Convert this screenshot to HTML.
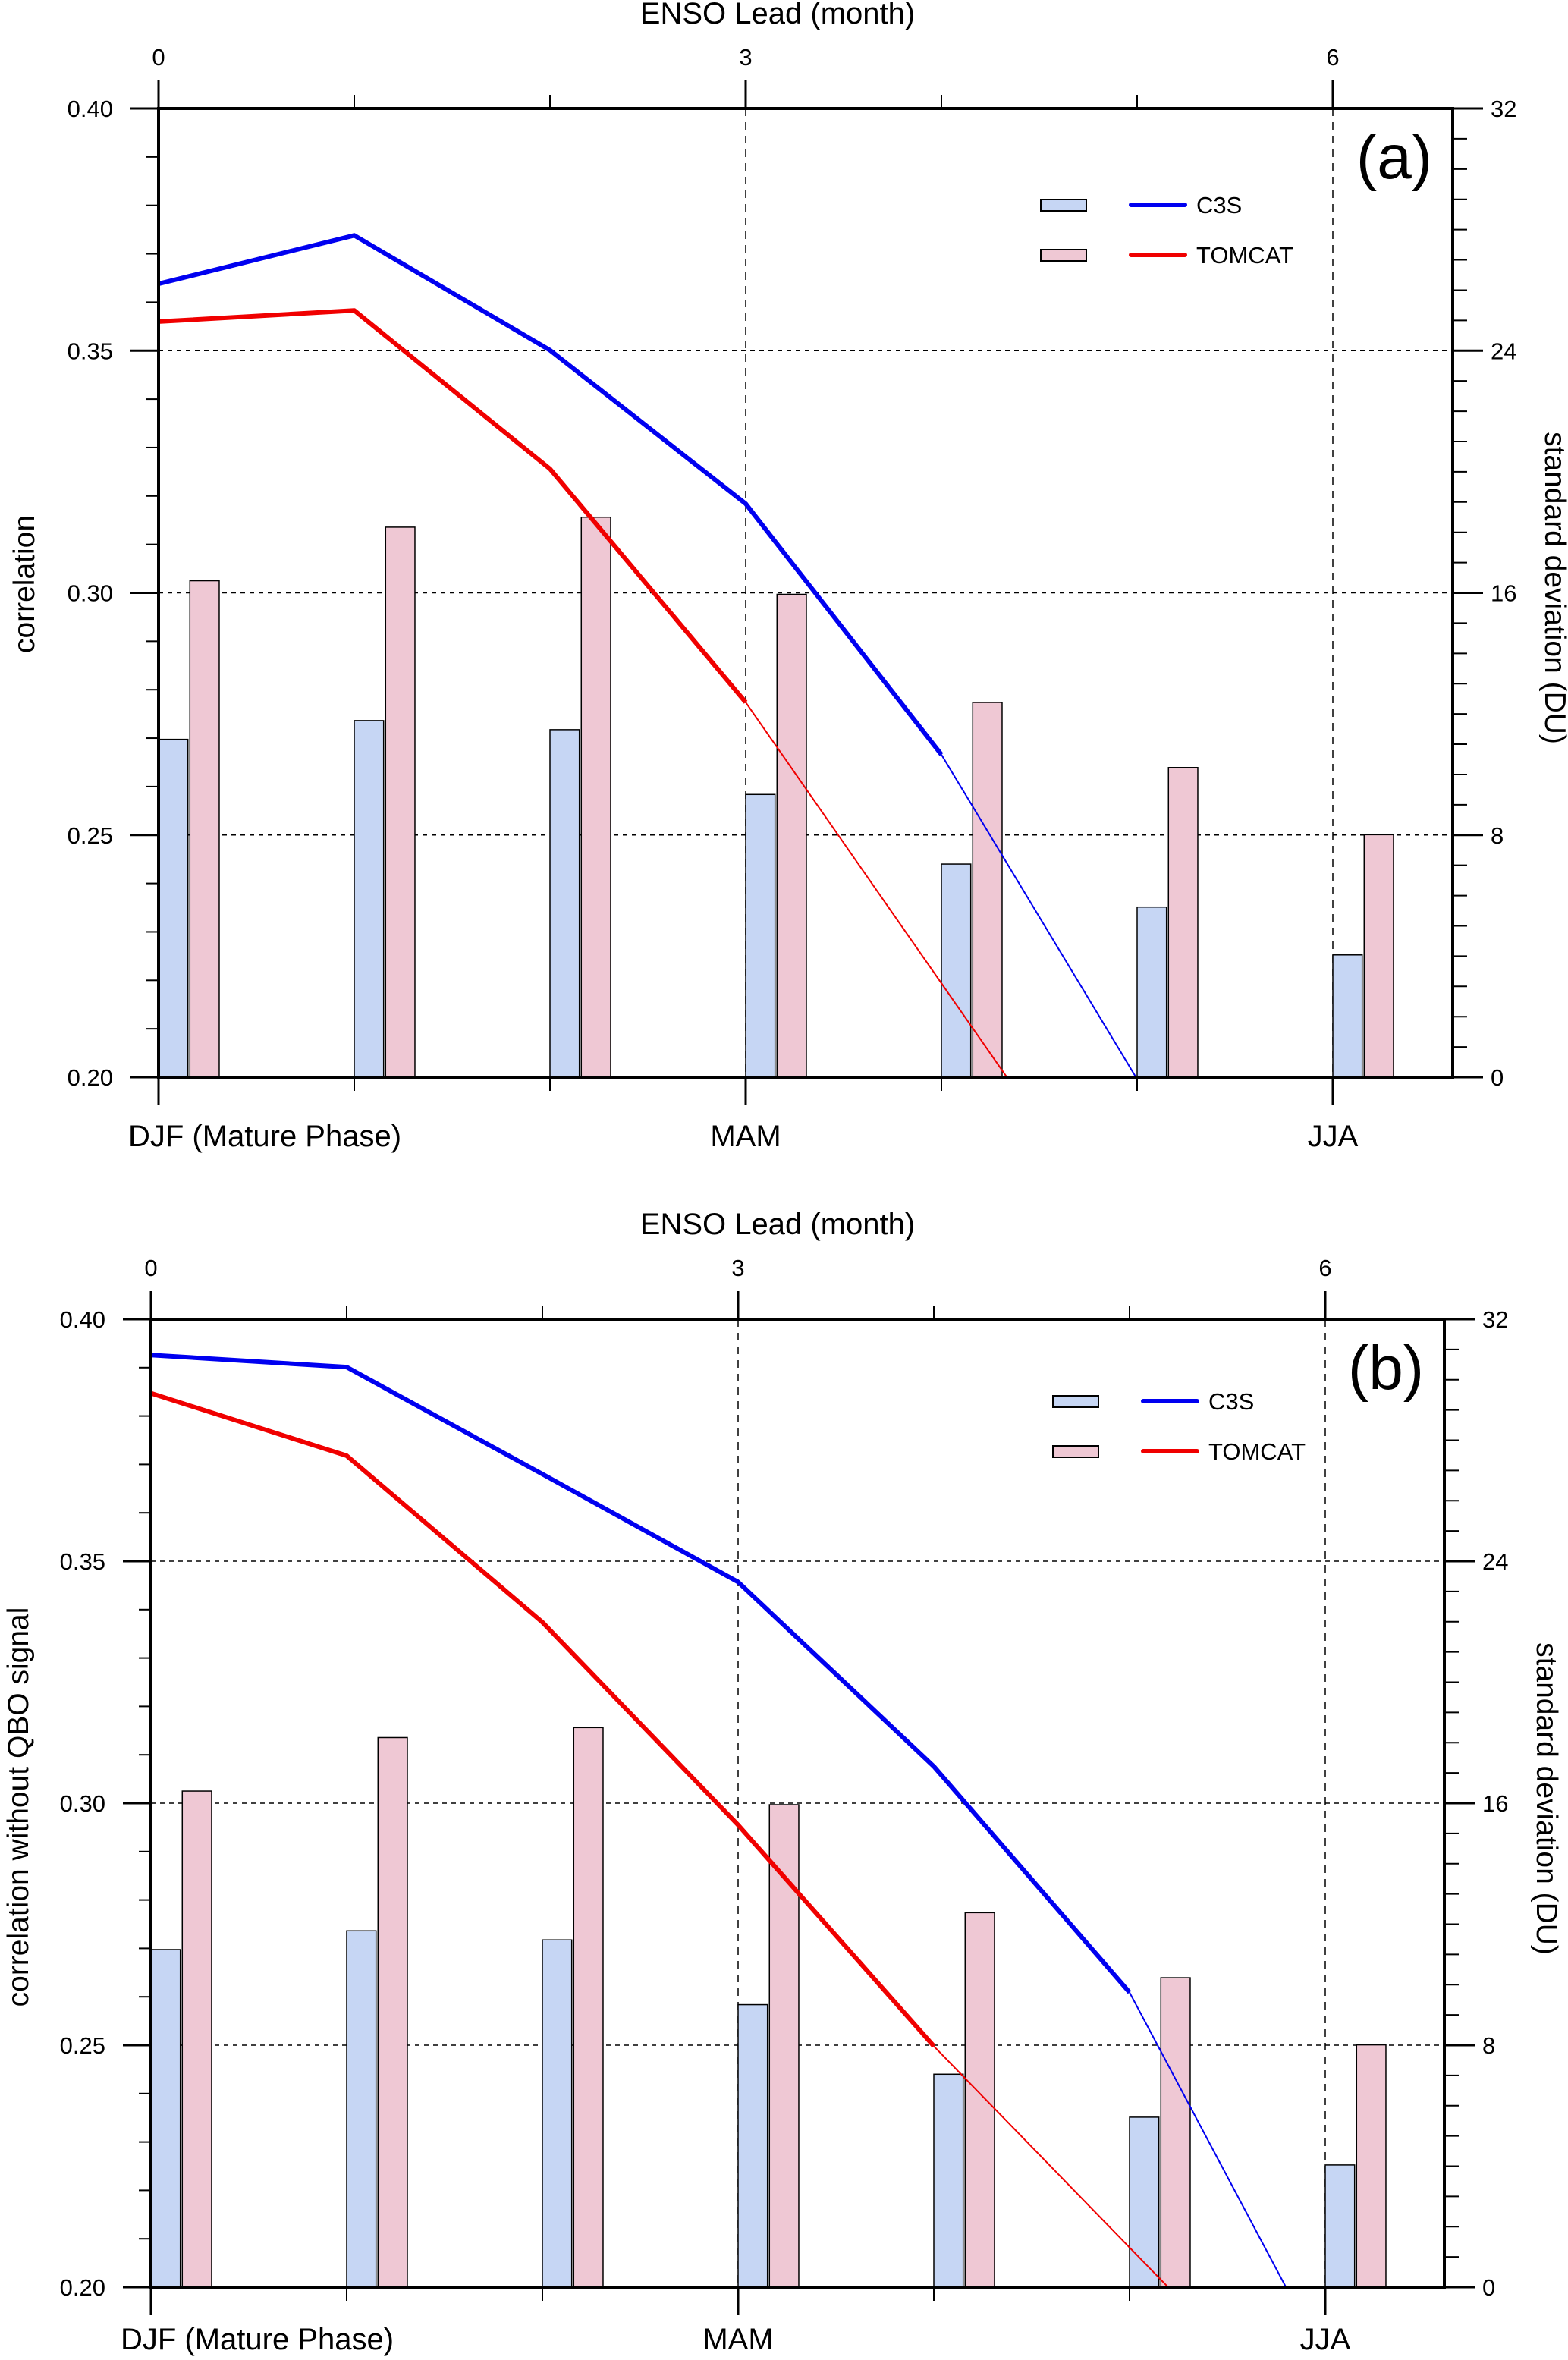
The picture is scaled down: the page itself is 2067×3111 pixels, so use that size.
<!DOCTYPE html>
<html><head><meta charset="utf-8">
<style>
html,body{margin:0;padding:0;background:#fff;}
svg{display:block;font-family:"Liberation Sans",Arial,sans-serif;}
</style></head>
<body>
<svg id="chart" width="2067" height="3111" viewBox="0 0 2067 3111" xmlns="http://www.w3.org/2000/svg"></svg>
<script>
// ---- data ----
const months = [0,1,2,3,4,5,6];
const seasonLabels = ["DJF (Mature Phase)","MAM","JJA"];
const topTickLabels = ["0","3","6"];
const leftTickLabels = ["0.20","0.25","0.30","0.35","0.40"];
const rightTickLabels = ["0","8","16","24","32"];
const stdC3S = [11.16,11.78,11.48,9.34,7.04,5.62,4.04];
const stdTOMCAT = [16.4,18.17,18.5,15.95,12.38,10.23,8.01];
const corrC3S_a = [0.3638,0.3738,0.3501,0.3184,0.2666,0.1996];
const corrTOMCAT_a = [0.356,0.3583,0.3256,0.2774,0.2194,0.1614];
const corrC3S_b = [0.3926,0.3901,0.368,0.3457,0.3076,0.2609,0.1847];
const corrTOMCAT_b = [0.3847,0.3718,0.3374,0.2955,0.2498,0.2082,0.1666];
const thickC3S_a = 4, thickTOMCAT_a = 3, thickC3S_b = 5, thickTOMCAT_b = 4;

const NS = "http://www.w3.org/2000/svg";
const svg = document.getElementById('chart');
function mk(tag, attrs, parent){
  const e = document.createElementNS(NS, tag);
  for (const k in attrs) e.setAttribute(k, attrs[k]);
  (parent||svg).appendChild(e);
  return e;
}

function panel(cfg){
  const g = mk('g', {});
  
  
  const L=cfg.L, R=cfg.R, T=cfg.T, B=cfg.B;
  const mw = (1758-210)/6; // month width
  const xm = m => L + m*mw;
  const yc = v => B - (v-0.2)/0.2*(B-T);
  const yd = v => B - v/32*(B-T);
  const clip = 'clip-'+cfg.name;
  const cp = mk('clipPath', {id:clip}, g); mk('rect',{x:L,y:T,width:R-L,height:B-T},cp);

  // grid
  [0.25,0.30,0.35].forEach(v=>{
    const l = mk('line',{x1:L,x2:R,y1:yc(v),y2:yc(v),stroke:'#000','stroke-width':1.5,'stroke-dasharray':'6,6'},g);
    
    
  });
  [3,6].forEach(m=>{
    const l = mk('line',{x1:xm(m),x2:xm(m),y1:T,y2:B,stroke:'#000','stroke-width':1.5,'stroke-dasharray':'10,8'},g);
    
    
  });

  // bars
  const bw = 0.15*mw;
  months.forEach((m,i)=>{
    const b1 = mk('rect',{x:xm(m),y:yd(stdC3S[i]),width:bw,height:B-yd(stdC3S[i]),fill:'#c6d6f4',stroke:'#000','stroke-width':1.5},g);
    
    
    const b2 = mk('rect',{x:xm(m)+0.16*mw,y:yd(stdTOMCAT[i]),width:bw,height:B-yd(stdTOMCAT[i]),fill:'#efc8d4',stroke:'#000','stroke-width':1.5},g);
    
    
  });

  // lines
  function series(vals, thick, color, nm){
    const thickPts = vals.slice(0,thick+1).map((v,i)=>xm(i)+','+yc(v)).join(' ');
    const thinPts = vals.slice(thick).map((v,i)=>xm(i+thick)+','+yc(v)).join(' ');
    const p1 = mk('polyline',{points:thickPts,fill:'none',stroke:color,'stroke-width':6,'stroke-linejoin':'round','clip-path':'url(#'+clip+')'},g);
    
    
    const p2 = mk('polyline',{points:thinPts,fill:'none',stroke:color,'stroke-width':2,'clip-path':'url(#'+clip+')'},g);
    
    
  }
  series(cfg.c3s, cfg.tc, '#0000f0', 'c3s');
  series(cfg.tom, cfg.tt, '#f00000', 'tomcat');

  // frame
  const fr = mk('rect',{x:L,y:T,width:R-L,height:B-T,fill:'none',stroke:'#000','stroke-width':4},g);
  
  

  // left ticks
  for(let k=0;k<=20;k++){
    const v=0.2+k*0.01, major=k%5===0;
    mk('line',{x1:major?L-37:L-16,x2:L,y1:yc(v),y2:yc(v),stroke:'#000','stroke-width':major?3:2},g);
  }
  leftTickLabels.forEach((t,i)=>{
    const e = mk('text',{x:L-60,y:yc(0.2+i*0.05)+11,'text-anchor':'end','font-size':31},g);
    e.textContent=t;
    
    
  });
  // right ticks
  for(let k=0;k<=32;k++){
    const major=k%8===0;
    mk('line',{x1:R,x2:major?R+40:R+19,y1:yd(k),y2:yd(k),stroke:'#000','stroke-width':major?3:2},g);
  }
  rightTickLabels.forEach((t,i)=>{
    const e = mk('text',{x:R+50,y:yd(i*8)+11,'text-anchor':'start','font-size':31},g);
    e.textContent=t;
    
    
  });
  // top & bottom ticks
  months.forEach(m=>{
    const major=m%3===0;
    mk('line',{x1:xm(m),x2:xm(m),y1:T,y2:major?T-37:T-18,stroke:'#000','stroke-width':major?3:2},g);
    mk('line',{x1:xm(m),x2:xm(m),y1:B,y2:major?B+37:B+18,stroke:'#000','stroke-width':major?3:2},g);
  });
  topTickLabels.forEach((t,i)=>{
    const e = mk('text',{x:xm(i*3),y:T-57,'text-anchor':'middle','font-size':31},g);
    e.textContent=t;
    
    
  });
  const sx=[L-45+185, xm(3), xm(6)];
  seasonLabels.forEach((t,i)=>{
    const e = mk('text',{x:sx[i],y:B+cfg.botOff,'text-anchor':'middle','font-size':40},g);
    e.textContent=t;
    
    
  });
  const tt = mk('text',{x:1025,y:T-112,'text-anchor':'middle','font-size':40},g);
  tt.textContent='ENSO Lead (month)';
  
  
  const ly = mk('text',{x:0,y:0,'text-anchor':'middle','font-size':39,transform:'translate('+cfg.ylx+','+cfg.yly+') rotate(-90)'},g);
  ly.textContent=cfg.ylabel;
  
  
  const ry = mk('text',{x:0,y:0,'text-anchor':'middle','font-size':39,transform:'translate('+(R+122)+','+(T+632)+') rotate(90)'},g);
  ry.textContent='standard deviation (DU)';
  
  
  const pl = mk('text',{x:cfg.plx,y:T+92,'text-anchor':'middle','font-size':82},g);
  pl.textContent=cfg.label;
  
  
  // legend
  const lg = mk('g',{},g);
  
  
  [['C3S','#c6d6f4','#0000f0'],['TOMCAT','#efc8d4','#f00000']].forEach((r,i)=>{
    const y=cfg.legY+i*66;
    mk('rect',{x:cfg.legX,y:y-7,width:60,height:15,fill:r[1],stroke:'#000','stroke-width':2},lg);
    mk('line',{x1:cfg.legX+119,x2:cfg.legX+190,y1:y,y2:y,stroke:r[2],'stroke-width':6,'stroke-linecap':'round'},lg);
    const e = mk('text',{x:cfg.legX+205,y:y+11,'font-size':31},lg);
    e.textContent=r[0];
    
    
  });
}

panel({name:'panel-a',L:209,R:1915,T:143,B:1420,c3s:corrC3S_a,tom:corrTOMCAT_a,tc:thickC3S_a,tt:thickTOMCAT_a,
  ylabel:'correlation',ylx:45,yly:770,label:'(a)',plx:1838,legX:1372,legY:270,botOff:91});
panel({name:'panel-b',L:199,R:1904,T:1739,B:3015,c3s:corrC3S_b,tom:corrTOMCAT_b,tc:thickC3S_b,tt:thickTOMCAT_b,
  ylabel:'correlation without QBO signal',ylx:37,yly:2382,label:'(b)',plx:1827,legX:1388,legY:1847,botOff:82});
</script>
</body></html>
